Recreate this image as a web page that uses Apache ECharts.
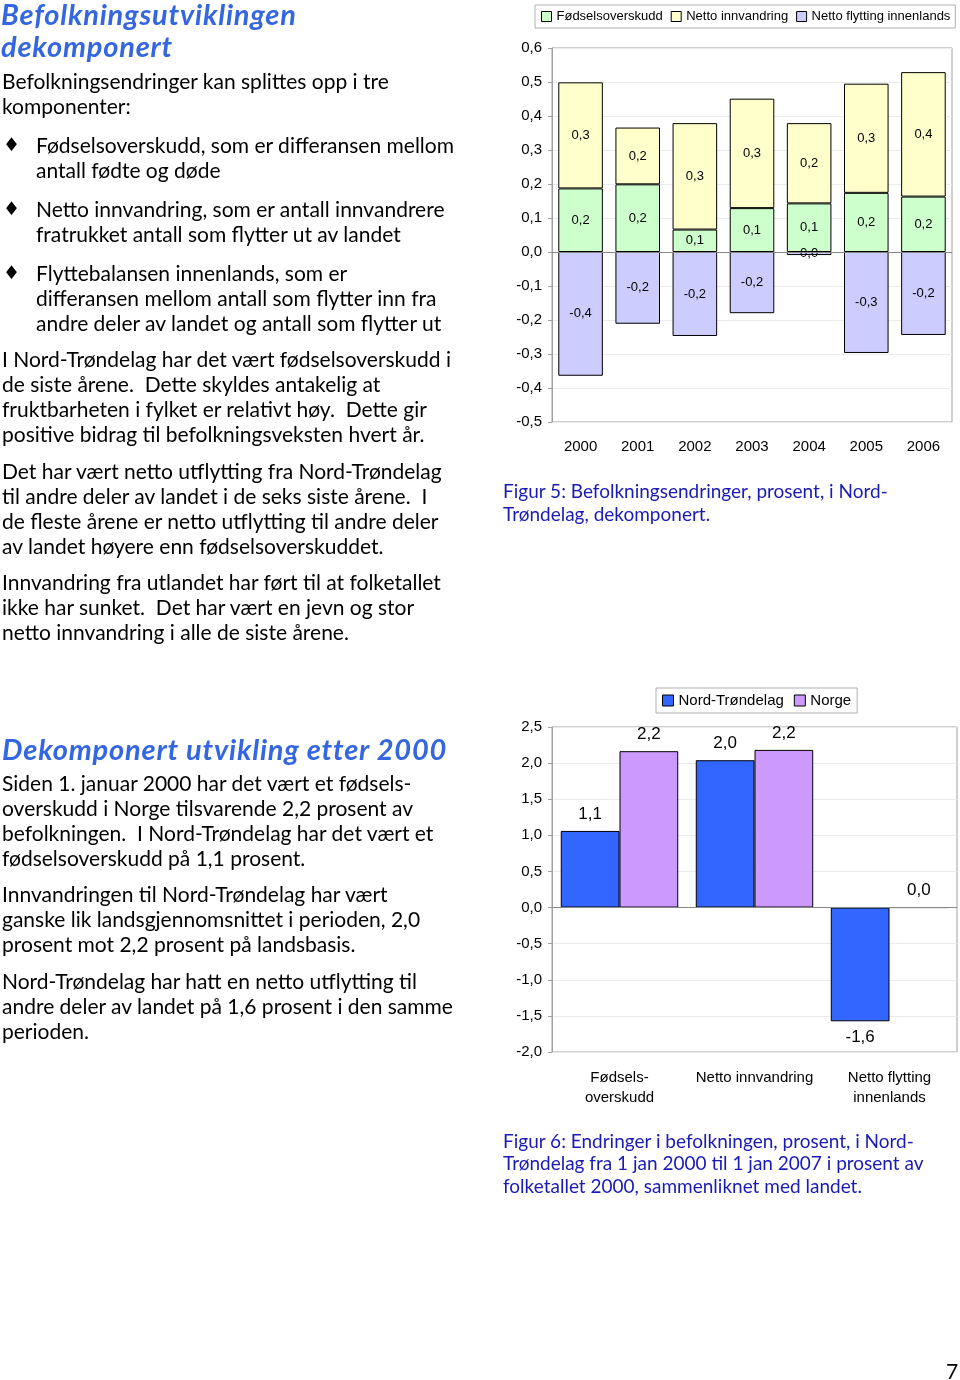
<!DOCTYPE html>
<html><head><meta charset="utf-8">
<script src="https://cdn.jsdelivr.net/npm/echarts@6/dist/echarts.min.js"></script>
<style>
html,body{margin:0;padding:0;background:#fff;}
#page{position:relative;width:960px;height:1380px;overflow:hidden;}
#chart{position:absolute;left:0;top:0;width:960px;height:1380px;}
.ln{position:absolute;white-space:pre;font-family:Lato,"Noto Sans",sans-serif;font-size:21px;line-height:25px;color:#000;}
.h{font-weight:bold;font-style:italic;color:#3366e0;font-size:29px;line-height:32px;letter-spacing:0.8px;}
.cap{color:#1a1ab4;font-size:19px;line-height:23px;}
.b{font-family:"DejaVu Sans",sans-serif;font-size:19px;}
</style></head>
<body><div id="page"><div id="chart"></div><div id="txt"></div></div>
<script>
// ---- Figure 5 data ----
const years = ['2000','2001','2002','2003','2004','2005','2006'];
const fodselsoverskudd = [0.187, 0.199, 0.066, 0.129, 0.143, 0.174, 0.163];
const nettoInnvandring = [0.312, 0.167, 0.313, 0.322, 0.236, 0.321, 0.366];
const nettoFlytting = [-0.364, -0.211, -0.247, -0.180, -0.009, -0.297, -0.244];
const series1Names = ['Fødselsoverskudd', 'Netto innvandring', 'Netto flytting innenlands'];
// ---- Figure 6 data ----
const components = ['Fødsels-\noverskudd', 'Netto innvandring', 'Netto flytting\ninnenlands'];
const nordTrondelag = [1.061, 2.04, -1.575];
const norge = [2.165, 2.183, 0.0];
const series2Names = ['Nord-Trøndelag', 'Norge'];

// ---- text lines [x, centerY, text, class] ----
const lines = [
 [1,14,'Befolkningsutviklingen','h'],[1,46,'dekomponert','h'],
 [2,80,'Befolkningsendringer kan splittes opp i tre'],[2,105,'komponenter:'],
 [3,144,'\u2666','b'],[36,144,'Fødselsoverskudd, som er differansen mellom'],[36,169,'antall fødte og døde'],
 [3,208,'\u2666','b'],[36,208,'Netto innvandring, som er antall innvandrere'],[36,233,'fratrukket antall som flytter ut av landet'],
 [3,272,'\u2666','b'],[36,272,'Flyttebalansen innenlands, som er'],[36,297,'differansen mellom antall som flytter inn fra'],[36,322,'andre deler av landet og antall som flytter ut'],
 [2,358,'I Nord-Trøndelag har det vært fødselsoverskudd i'],[2,383,'de siste årene.  Dette skyldes antakelig at'],[2,408,'fruktbarheten i fylket er relativt høy.  Dette gir'],[2,433,'positive bidrag til befolkningsveksten hvert år.'],
 [2,470,'Det har vært netto utflytting fra Nord-Trøndelag'],[2,495,'til andre deler av landet i de seks siste årene.  I'],[2,520,'de fleste årene er netto utflytting til andre deler'],[2,545,'av landet høyere enn fødselsoverskuddet.'],
 [2,581,'Innvandring fra utlandet har ført til at folketallet'],[2,606,'ikke har sunket.  Det har vært en jevn og stor'],[2,631,'netto innvandring i alle de siste årene.'],
 [2,749,'Dekomponert utvikling etter 2000','h'],
 [2,782,'Siden 1. januar 2000 har det vært et fødsels-'],[2,807,'overskudd i Norge tilsvarende 2,2 prosent av'],[2,832,'befolkningen.  I Nord-Trøndelag har det vært et'],[2,857,'fødselsoverskudd på 1,1 prosent.'],
 [2,893,'Innvandringen til Nord-Trøndelag har vært'],[2,918,'ganske lik landsgjennomsnittet i perioden, 2,0'],[2,943,'prosent mot 2,2 prosent på landsbasis.'],
 [2,980,'Nord-Trøndelag har hatt en netto utflytting til'],[2,1005,'andre deler av landet på 1,6 prosent i den samme'],[2,1030,'perioden.'],
 [503,490,'Figur 5: Befolkningsendringer, prosent, i Nord-','cap'],[503,513,'Trøndelag, dekomponert.','cap'],
 [503,1140,'Figur 6: Endringer i befolkningen, prosent, i Nord-','cap'],[503,1162,'Trøndelag fra 1 jan 2000 til 1 jan 2007 i prosent av','cap'],[503,1185,'folketallet 2000, sammenliknet med landet.','cap'],
 [946,1370,'7']
];
const txt = document.getElementById('txt');
lines.forEach(l=>{
  const d=document.createElement('div');
  d.className='ln'+(l[3]?' '+l[3]:'');
  d.textContent=l[2];
  txt.appendChild(d);
  const lh = l[3]==='h'?32:(l[3]==='cap'?23:25);
  d.style.left=l[0]+'px'; d.style.top=(l[1]-lh/2)+'px';
});

const fmt = v => (Math.round(v*10)/10).toFixed(1).replace('.',',').replace('-0,0','0,0');
const FONT = '"Liberation Sans", Arial, sans-serif';
const chart = echarts.init(document.getElementById('chart'), null, {renderer:'canvas'});
const zeroLine = {silent:true, symbol:'none', label:{show:false}, lineStyle:{color:'#888',width:1,type:'solid'}, data:[{yAxis:0}]};
const colors1 = ['#ccffcc','#ffffcc','#ccccff'];
const data1 = [fodselsoverskudd, nettoInnvandring, nettoFlytting];
const s1 = data1.map((arr,i)=>({
  name: series1Names[i], type:'bar', stack:'a', xAxisIndex:0, yAxisIndex:0,
  data: arr, barCategoryGap:'22%',
  itemStyle:{color:colors1[i], borderColor:'#000', borderWidth:1},
  label:{show:true, position:'inside', formatter:p=>fmt(p.value), color:'#000', fontSize:13, fontFamily:FONT},
  markLine: i===0? zeroLine: undefined
}));
const colors2 = ['#3366ff','#cc99ff'];
const data2 = [nordTrondelag, norge];
const s2 = data2.map((arr,i)=>({
  name: series2Names[i], type:'bar', xAxisIndex:1, yAxisIndex:1,
  data: arr.map(v=>({value:v, label:{position: v<0?'bottom':'top'}})), barGap:'0%', barCategoryGap:'13%',
  itemStyle:{color:colors2[i], borderColor:'#000', borderWidth:1},
  label:{show:true, distance:8, formatter:p=>fmt(p.value), color:'#000', fontSize:17, fontFamily:FONT},
  markLine: i===0? zeroLine: undefined
}));

chart.setOption({
  animation:false,
  textStyle:{fontFamily:FONT},
  legend:[
    {data:series1Names, left:535, top:5, padding:[5,5,5,6], itemGap:8, itemWidth:10, itemHeight:10,
     icon:'rect', borderColor:'#b0b0b0', borderWidth:1, backgroundColor:'#fff',
     itemStyle:{borderWidth:1, borderColor:'#000'},
     textStyle:{fontSize:13, color:'#000', fontFamily:FONT, padding:[0,0,0,0]}},
    {data:series2Names, left:656, top:688, padding:[5,6,5,6], itemGap:10, itemWidth:11, itemHeight:11,
     icon:'rect', borderColor:'#b0b0b0', borderWidth:1, backgroundColor:'#fff',
     itemStyle:{borderWidth:1, borderColor:'#000'},
     textStyle:{fontSize:15, color:'#000', fontFamily:FONT, padding:[0,0,0,0]}}
  ],
  grid:[
    {left:552, top:48, width:400, height:374, show:true, borderColor:'#a0a0a0', borderWidth:1, containLabel:false},
    {left:552, top:727, width:405, height:325, show:true, borderColor:'#a0a0a0', borderWidth:1, containLabel:false}
  ],
  xAxis:[
    {type:'category', gridIndex:0, data:years, position:'bottom', axisLine:{show:false,onZero:false}, axisTick:{show:false},
     axisLabel:{fontSize:15, color:'#000', margin:17, interval:0}},
    {type:'category', gridIndex:1, data:components, position:'bottom', axisLine:{show:false,onZero:false}, axisTick:{show:false},
     axisLabel:{fontSize:15, color:'#000', margin:16, lineHeight:20, interval:0, hideOverlap:false}}
  ],
  yAxis:[
    {type:'value', gridIndex:0, min:-0.5, max:0.6, interval:0.1,
     axisLine:{show:true, lineStyle:{color:'#a0a0a0'}}, axisTick:{show:true, length:4, lineStyle:{color:'#a0a0a0'}},
     splitLine:{show:true, lineStyle:{color:'#ececec'}},
     axisLabel:{fontSize:15, color:'#000', margin:10, formatter:v=>fmt(v)}},
    {type:'value', gridIndex:1, min:-2, max:2.5, interval:0.5,
     axisLine:{show:true, lineStyle:{color:'#a0a0a0'}}, axisTick:{show:true, length:4, lineStyle:{color:'#a0a0a0'}},
     splitLine:{show:true, lineStyle:{color:'#ececec'}},
     axisLabel:{fontSize:15, color:'#000', margin:10, formatter:v=>fmt(v)}}
  ],
  series: s1.concat(s2)
});
</script></body></html>
